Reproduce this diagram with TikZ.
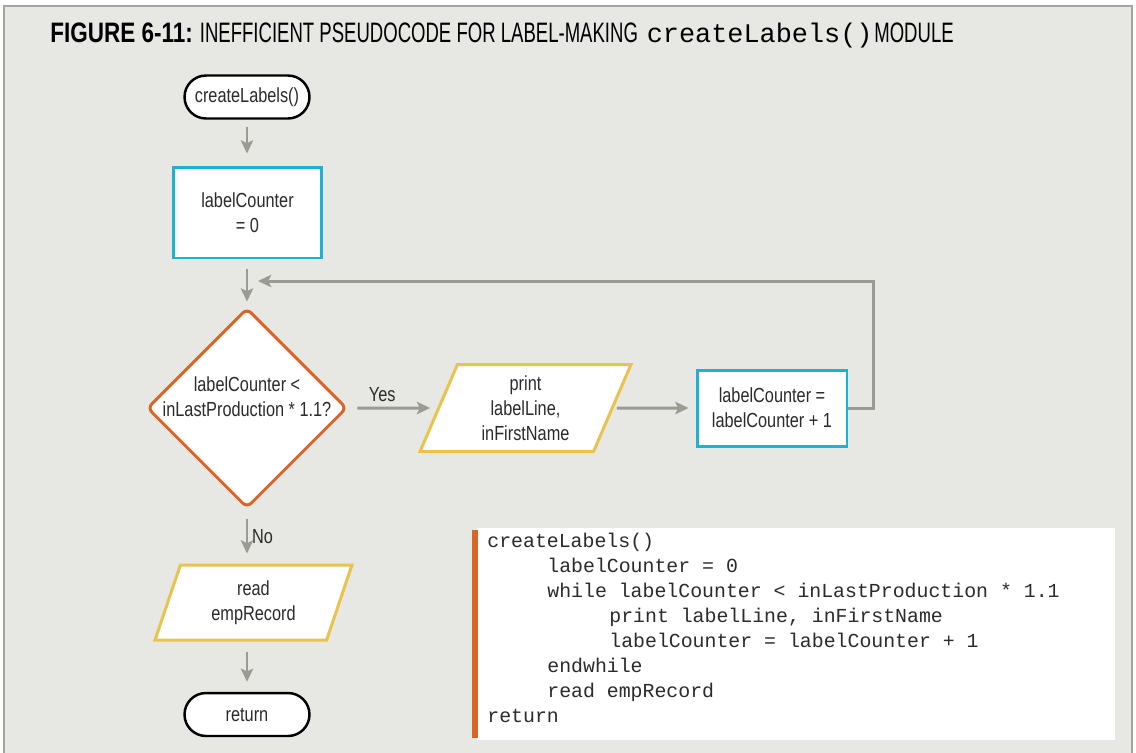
\documentclass[tikz,border=0pt]{standalone}
\usepackage{fontspec}
\setmainfont{Liberation Sans}[FakeStretch=0.8]
\newfontfamily\headfont{Liberation Sans}[FakeStretch=0.66]
\newfontfamily\headboldfont{Liberation Sans}[FakeStretch=0.8]
\setmonofont{Liberation Mono}
\usetikzlibrary{shapes.geometric,arrows.meta,calc}
\definecolor{panel}{HTML}{E7E7E4}
\definecolor{panelline}{HTML}{A3A3A0}
\definecolor{flowgray}{HTML}{9B9B93}
\definecolor{boxcyan}{HTML}{1CB2D6}
\definecolor{deco}{HTML}{DC6427}
\definecolor{ioyellow}{HTML}{E8C44C}
\definecolor{ink}{HTML}{2B2B2B}
\tikzset{
  nodetext/.style={font=\fontsize{11.6}{14.2}\selectfont, text=ink, align=center},
  term/.style={nodetext, draw=black, line width=1.4pt, fill=white,
    rounded corners=0.43cm, minimum width=2.5cm, minimum height=0.86cm, inner sep=0pt},
  procbox/.style={nodetext, draw=boxcyan, line width=1.7pt, fill=white, inner sep=0pt},
  decbox/.style={diamond, draw=deco, line width=1.7pt, fill=white, rounded corners=0.12cm,
    minimum width=4cm, minimum height=4cm, inner sep=0pt},
  iobox/.style={nodetext, trapezium, trapezium left angle=60, trapezium right angle=120,
    trapezium stretches body, draw=ioyellow, line width=1.7pt, fill=white, inner sep=0pt},
  flow/.style={draw=flowgray, line width=1.7pt, -{Stealth[length=7.5pt,width=7pt,inset=1.6pt]}},
  codeline/.style={anchor=base west, inner sep=0pt, text=ink,
    font=\ttfamily\fontsize{11.3}{14.2}\selectfont},
}
\begin{document}
\begin{tikzpicture}[x=0.02cm, y=-0.02cm]
\useasboundingbox (0,0) rectangle (1136,752);
\fill[white] (0,0) rectangle (1136,752);
\draw[fill=panel, draw=panelline, line width=1.4pt] (4,6) rectangle (1132,800);

% heading
\node[anchor=base west, inner sep=0pt, text=black] (head) at (50,42)
  {\fontsize{16}{18}\selectfont{\headboldfont\bfseries FIGURE 6-11:}\hspace{4pt}{\headfont INEFFICIENT PSEUDOCODE FOR LABEL-MAKING}\hspace{5pt}{\ttfamily\fontsize{15.3}{16}\selectfont createLabels()}\hspace{1pt}{\headfont MODULE}};

% flowchart nodes
\node[term] (start) at (247,97) {createLabels()};
\node[procbox, minimum width=2.98cm, minimum height=1.82cm] (init) at (247.5,212.5) {labelCounter\\= 0};
\node[decbox] (test) at (247,408) {};
\node[nodetext] (testtxt) at (247,397) {labelCounter <\\inLastProduction * 1.1?};
\node[iobox, minimum width=4.22cm, minimum height=1.74cm] (print) at (525.5,408) {print\\labelLine,\\inFirstName};
\node[procbox, minimum width=3cm, minimum height=1.52cm] (incr) at (772,408) {labelCounter =\\labelCounter + 1};
\node[iobox, minimum width=3.94cm, minimum height=1.5cm] (read) at (253.5,602.5) {read\\empRecord};
\node[term] (stop) at (247,714.5) {return};

% connectors
\coordinate (join) at (247,281);
\draw[flow, shorten <=0.14cm, shorten >=0.24cm] (start.south) -- (start.south |- init.north);
\draw[flow, shorten <=0.2cm, shorten >=0.1cm] (init.south -| test.north) -- (test.north);
\draw[flow, shorten <=0.18cm, shorten >=0.14cm] (test.east) -- (print.west)
  node[pos=0.38, above=3pt, nodetext, inner sep=0pt] (yes) {Yes};
\draw[flow, shorten <=0.06cm, shorten >=0.14cm] (print.east) -- (incr.west);
\draw[flow, shorten >=0.22cm] (incr.east) -- ++(25,0) |- (join);
\draw[flow, shorten <=0.2cm, shorten >=0.2cm] (test.south) -- (test.south |- read.north)
  node[midway, right=2pt, nodetext, inner sep=0pt] (no) {No};
\draw[flow, shorten <=0.2cm, shorten >=0.2cm] (stop.north |- read.south) -- (stop.north);

% pseudocode panel
\fill[white] (477,528) rectangle (1115,740);
\fill[deco] (472,530) rectangle (478,738);
\node[codeline] (c1) at (487,547) {createLabels()};
\node[codeline] (c2) at (547,572) {labelCounter = 0};
\node[codeline] (c3) at (547,597) {while labelCounter < inLastProduction * 1.1};
\node[codeline] (c4) at (609,622) {print labelLine, inFirstName};
\node[codeline] (c5) at (609,647) {labelCounter = labelCounter + 1};
\node[codeline] (c6) at (547,672) {endwhile};
\node[codeline] (c7) at (547,697) {read empRecord};
\node[codeline] (c8) at (487,722) {return};
\end{tikzpicture}
\end{document}
